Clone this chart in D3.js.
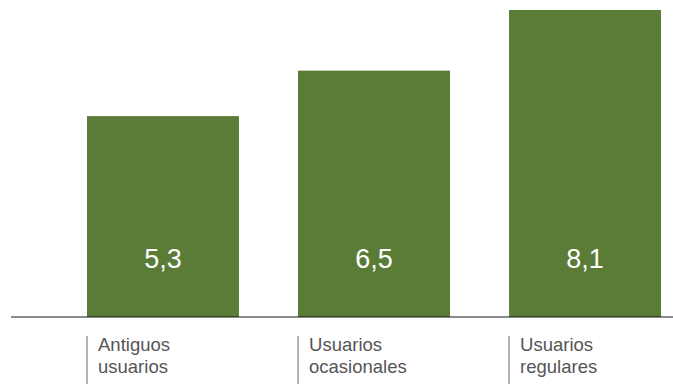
<!DOCTYPE html>
<html>
<head>
<meta charset="utf-8">
<script src="https://d3js.org/d3.v7.min.js"></script>
<style>
body { margin: 0; background: #fff; }
.bar { fill: #5a7c37; }
.value { fill: #fff; font-family: "Liberation Sans", Arial, sans-serif; font-size: 27px; text-anchor: middle; }
.cat { fill: #555; font-family: "Liberation Sans", Arial, sans-serif; font-size: 18.5px; }
.tick { stroke: #999; stroke-width: 1.5px; }
.baseline { stroke: #000; stroke-opacity: 0.45; stroke-width: 2px; }
</style>
</head>
<body>
<svg id="chart" width="673" height="385"></svg>
<script>
var categories = ["Antiguos usuarios", "Usuarios ocasionales", "Usuarios regulares"];
var values = [5.3, 6.5, 8.1];
var valueLabels = ["5,3", "6,5", "8,1"];
var labelLines = [["Antiguos", "usuarios"], ["Usuarios", "ocasionales"], ["Usuarios", "regulares"]];

var svg = d3.select("#chart");

var x = d3.scaleBand()
    .domain(categories)
    .range([87, 661])
    .paddingInner(0.28)
    .paddingOuter(0);

var y = d3.scaleLinear()
    .domain([0, 8.1])
    .range([317, 10]);

svg.selectAll(".bar")
    .data(values)
    .enter().append("rect")
    .attr("class", "bar")
    .attr("x", function(d, i) { return x(categories[i]); })
    .attr("width", x.bandwidth())
    .attr("y", function(d) { return y(d); })
    .attr("height", function(d) { return y(0) - y(d); });

svg.selectAll(".value")
    .data(values)
    .enter().append("text")
    .attr("class", "value")
    .attr("x", function(d, i) { return x(categories[i]) + x.bandwidth() / 2; })
    .attr("y", 268)
    .text(function(d, i) { return valueLabels[i]; });

svg.append("line")
    .attr("class", "baseline")
    .attr("x1", 11).attr("x2", 673)
    .attr("y1", y(0)).attr("y2", y(0));

var g = svg.selectAll(".catg")
    .data(categories)
    .enter().append("g")
    .attr("transform", function(d) { return "translate(" + x(d) + ",0)"; });

g.append("line")
    .attr("class", "tick")
    .attr("x1", 0).attr("x2", 0)
    .attr("y1", 336).attr("y2", 384);

g.append("text")
    .attr("class", "cat")
    .selectAll("tspan")
    .data(function(d, i) { return labelLines[i]; })
    .enter().append("tspan")
    .attr("x", 11)
    .attr("y", function(d, j) { return 351 + j * 22; })
    .text(function(d) { return d; });
</script>
</body>
</html>
